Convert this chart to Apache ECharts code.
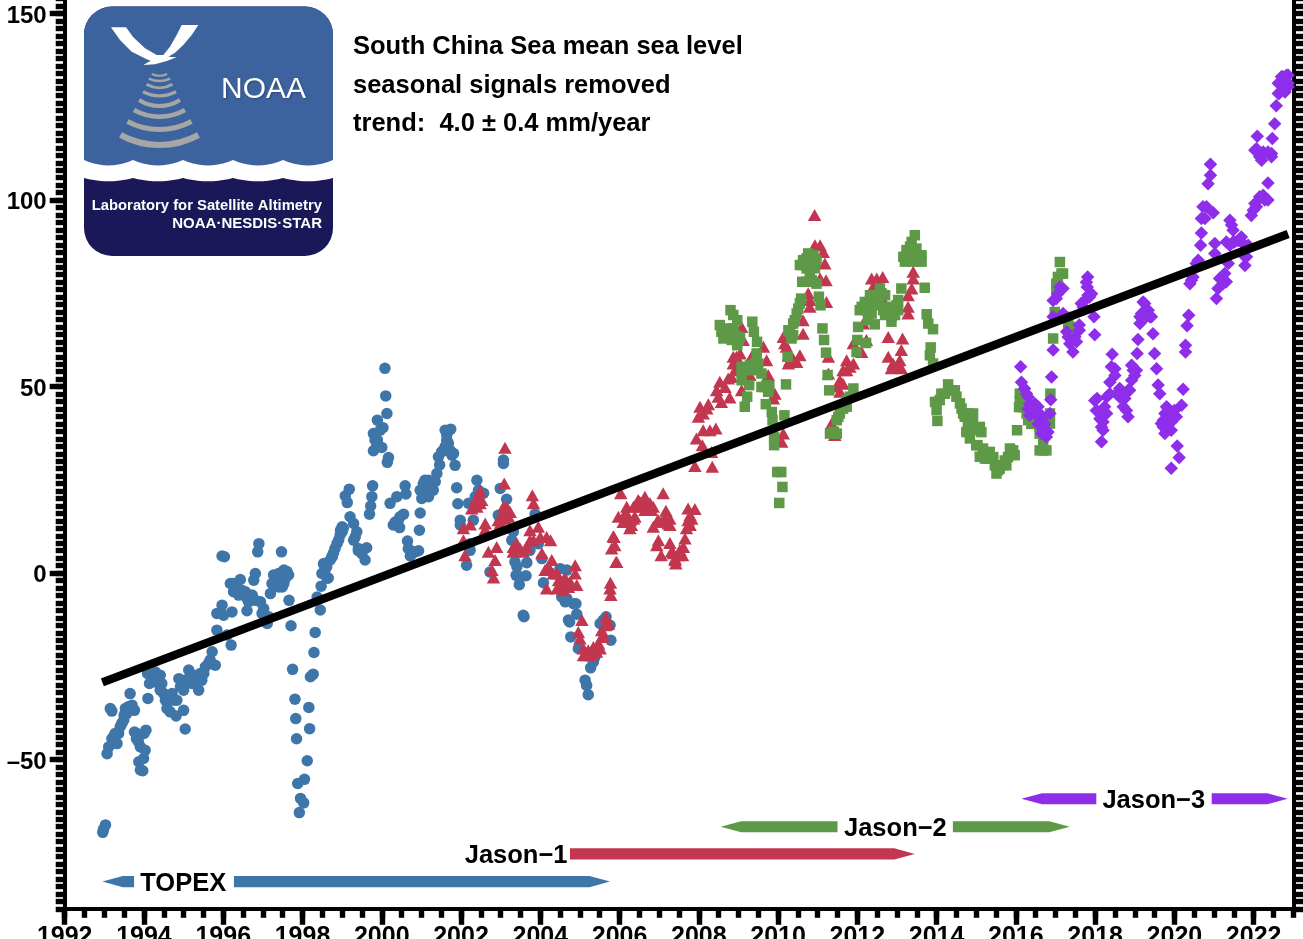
<!DOCTYPE html>
<html><head><meta charset="utf-8"><style>html,body{margin:0;padding:0;background:#fff;overflow:hidden}#c{width:1303px;height:939px}</style>
<script src="https://cdn.jsdelivr.net/npm/echarts@6/dist/echarts.min.js"></script></head>
<body><div id="c"></div>
<script>
const topexData=[[1992.96,-69.5],[1992.98,-68.7],[1993.03,-67.5],[1993.07,-48.4],[1993.11,-46.6],[1993.19,-44.4],[1993.32,-45.7],[1993.36,-43],[1993.4,-41.2],[1993.49,-39.4],[1993.5,-38.1],[1993.53,-36.3],[1993.65,-32.3],[1993.7,-35.4],[1993.76,-36.8],[1993.15,-36.3],[1993.19,-37],[1993.76,-42.6],[1993.81,-44.4],[1994.05,-42.1],[1993.91,-46.6],[1994.03,-47.5],[1993.99,-49.7],[1993.87,-50.6],[1993.91,-52.8],[1993.97,-53],[1994.1,-33.6],[1994.14,-29.6],[1994.09,-26.9],[1994.29,-26.5],[1994.41,-27.4],[1994.45,-29.6],[1994.33,-28.7],[1994.5,-32.3],[1994.58,-33.2],[1994.71,-32.3],[1994.83,-34.1],[1994.58,-36.3],[1994.66,-37.2],[1994.81,-38.3],[1995,-36.8],[1995.04,-41.8],[1994.88,-28.3],[1994.92,-30.5],[1995,-31.4],[1995.13,-26],[1995.25,-27.4],[1995.21,-29.6],[1995.38,-31.4],[1995.46,-28.7],[1995.42,-26.9],[1995.55,-25.1],[1995.63,-24.2],[1995.8,-24.7],[1995.72,-21.1],[1995.84,-15.3],[1996.1,-16.6],[1996.2,-19.3],[1995.84,-10.8],[1995.97,-8.6],[1996.01,-11.3],[1996.22,-10.4],[1996.6,-10.1],[1996.03,4.4],[1995.97,4.6],[1996.9,7.9],[1996.87,5.7],[1997.47,5.7],[1996.25,-2.8],[1996.43,-1.7],[1996.31,-4.1],[1996.39,-5.9],[1996.56,-5],[1996.73,-5.9],[1996.64,-7.7],[1996.94,-7.7],[1996.98,-10.8],[1997.11,-13.5],[1997.15,-11.7],[1996.81,-0.1],[1996.77,-1.9],[1997.19,-5.5],[1997.27,-0.5],[1997.44,-1],[1997.61,0.4],[1997.49,-3.7],[1997.65,-0.5],[1997.23,-2.8],[1997.36,-2.3],[1997.53,-2.8],[1997.66,-7.3],[1997.71,-14.1],[1997.75,-25.8],[1997.81,-33.8],[1997.83,-39],[1997.85,-44.4],[1997.88,-56.4],[1998.05,-55.3],[1998.12,-50.3],[1997.95,-60.4],[1998.03,-61.6],[1997.92,-64.2],[1998.16,-36],[1998.18,-41.7],[1998.2,-27.8],[1998.27,-27.1],[1998.29,-21.3],[1998.32,-15.9],[1998.45,-9.9],[1998.37,-6.4],[1998.47,-3.5],[1998.54,-0.1],[1998.62,-1.4],[1998.54,2.6],[1998.75,4.4],[1998.87,7.9],[1998.96,11.5],[1998.65,-1.3],[1998.49,-0.1],[1998.53,2.4],[1998.7,3.5],[1998.78,5.3],[1998.95,10.2],[1999,12.4],[1999.2,15.1],[1999.29,13.3],[1999.37,11.1],[1999.29,8.8],[1999.41,6],[1999.62,6.8],[1999.58,3.5],[1999.69,15.8],[1999.72,18],[1999.75,20.5],[1999.77,23.4],[1999.18,22.5],[1999.08,20.7],[1999.13,18.9],[2000.21,18.7],[2000.38,20.5],[2000.59,23.4],[2000.61,21.2],[2000.55,15.8],[2000.42,14.2],[2000.29,12.9],[2000.45,12.2],[2000.65,8.6],[2000.67,6.6],[2000.72,4.6],[2000.93,6],[2000.95,11.5],[2000.97,16.1],[2001.01,20],[2000.97,22.2],[2001.18,20.5],[2001.09,24.9],[2001.3,22.2],[2001.39,26.7],[2001.46,29],[2001.51,32.5],[2001.6,33.9],[2001.89,22.9],[2001.92,18.6],[2001.98,14.2],[2001.85,28.9],[2001.81,32.1],[2001.64,35.6],[2001.6,38.3],[2001.74,38.6],[1999.79,32.8],[2000,33.7],[1999.89,35.7],[1999.89,41],[2000.03,39],[2000.13,42.8],[2000.1,47.5],[2000.08,54.9],[2000.17,31],[2000.14,29.7],[2002.14,2.1],[2002.23,6.1],[2002.19,18.7],[2002.4,24.9],[2002.57,21.4],[2002.36,20.5],[2003.07,29.4],[2002.99,22.7],[2003.15,19.8],[2002.94,15.5],[2002.99,13.8],[2003.28,8.8],[2003.36,3],[2003.66,2.8],[2003.39,-0.6],[2003.64,-0.7],[2003.47,-3.1],[2003.57,-11.3],[2003.59,-11.7],[2003.87,15.8],[2003.74,6.1],[2003.95,7.9],[2004.04,3.9],[2004.08,-2.6],[2004.5,1.2],[2004.67,0.8],[2004.54,-6.4],[2004.63,-7.7],[2004.9,-8.2],[2004.92,-11],[2004.74,-13.1],[2004.77,-17.1],[2004.96,-20.2],[2005.27,-25.4],[2005.13,-28.7],[2005.17,-30.1],[2005.21,-32.6],[2005.38,-22.5],[2005.66,-11.7],[2005.76,-14],[2005.78,-18],[2005.51,-13.5],[2002.73,0.3],
[1993.23,-43.9],[1993.27,-43],[1993.44,-40.3],[1993.57,-37.6],[1993.61,-35.8],[1993.82,-43],[1993.86,-45.2],[1994,-43],[1994.2,-27.8],[1994.37,-29.6],[1994.41,-31.4],[1994.54,-34.1],[1994.75,-34.1],[1994.92,-28.7],[1995.04,-28.7],[1995.17,-27.8],[1995.34,-29.6],[1995.51,-26.9],[1995.67,-23.3],[1996.18,-2.8],[1996.26,-5],[1996.47,-4.6],[1996.6,-6.8],[1996.81,-7.3],[1997.02,-9.5],[1997.06,-11.7],[1997.31,-1.9],[1997.4,-0.1],[1997.53,0.8],[1997.57,-1.4],[1997.4,-3.7],[1997.27,-2.8],[1998.57,0.8],[1998.61,1.7],[1998.74,4.4],[1998.82,6.6],[1998.91,8.8],[1999,11.1],[1999.03,12],[1999.41,6.6],[1999.5,5.2],[1999.33,9.7],[1999.83,35.7],[1999.96,38.3],[1999.79,37.4],[1999.87,33.9],[2000.46,15.1],[2000.34,13.7],[2000.76,5.2],[2000.84,5.7],[2001.05,24],[2001.14,23.1],[2001.26,23.1],[2001.09,21.3],[2001.01,22.2],[2001.18,24.9],[2001.35,24.5],[2001.43,31.2],[2001.56,33],[2001.68,34.8],[2001.72,33],[2001.64,37],[2001.77,31.6],[2003.32,11.1],[2003.41,1.7],[2003.49,-1],[2004.67,-6.8],[2004.84,-8.2],[2004.71,-12.6],[2005.34,-23.8],[2005.68,-13.5],[2005.59,-12.6],[2001.98,12.9],[2002.23,7.9],[2002.31,14.2],[2002.44,22.2],[2003.07,30.3]];
const jason1Data=[[2003.11,33.6],[2003.09,24],[2003.8,20.9],[2003.83,18.7],[2002.48,22.1],[2002.48,18.7],[2002.27,17.3],[2002.06,12],[2002.23,13],[2002.61,13.3],[2002.61,11.7],[2002.06,8.8],[2002.1,4.8],[2002.69,5.7],[2002.9,7],[2002.86,3.5],[2002.78,0.8],[2002.82,-1.2],[2003.15,17.8],[2003.07,16],[2003.2,15.1],[2002.99,13.3],[2003.32,7],[2003.49,6.6],[2003.57,5.7],[2003.74,11.5],[2003.74,8.8],[2003.95,12.4],[2004,9.7],[2004.26,8.8],[2004.04,5.3],[2004.29,3.5],[2004.12,0.8],[2004.16,-4.1],[2004.42,-0.1],[2004.58,-3.2],[2004.88,2.1],[2004.88,-0.1],[2004.79,-3.2],[2004.92,-3.2],[2004.42,-4.1],[2005.05,-12.6],[2004.96,-15.8],[2005,-17.5],[2005.17,-22],[2005.34,-19.8],[2005.51,-20.2],[2005.59,-16.6],[2005.66,-11.7],[2005.76,-4.1],[2005.78,-5.9],[2005.91,3],[2005.8,6.6],[2005.86,9.7],[2004.58,-1.9],[2004.75,-2.3],[2005.09,-22],[2005.3,-22],[2005.42,-21.1],[2005.55,-17.1],[2005.72,-13.5],[2005.77,-2.6],[2005.93,3],[2005.84,9.9],[2005.88,7.5],[2006.03,21.4],[2006.18,17.8],[2005.97,15.1],[2006.09,13.7],[2006.22,15.1],[2006.35,14.6],[2006.26,12],[2006.47,19.6],[2006.64,20.5],[2006.51,17.8],[2006.77,18.7],[2006.64,16.9],[2007.1,21.4],[2006.85,17.8],[2007.17,16.7],[2006.94,13.8],[2006.85,12.4],[2007.06,13.8],[2007.23,13.3],[2007.27,12.9],[2006.98,8.8],[2006.94,7.5],[2007.05,4.8],[2007.27,8.1],[2007.31,5.7],[2007.4,3.9],[2007.42,2.6],[2007.61,7],[2007.65,9.3],[2007.59,4.8],[2007.73,17.3],[2007.9,17.2],[2007.73,14.2],[2007.78,12.9],[2007.69,12],[2007.9,28.7],[2008.34,28.5],[2008.32,32.5],[2008.09,34.3],[2007.94,36.1],[2008.11,38.3],[2008.28,38.3],[2008.43,38.8],[2007.99,41.9],[2008.03,44.6],[2008.24,45.3],[2008.11,42.8],[2008.57,45.9],[2008.78,47.1],[2008.45,49],[2008.53,51.3],[2008.74,52.2],[2008.91,54.4],[2008.87,58],[2009.04,58.9],[2009.08,66],[2009.12,62.5],[2009.08,49],[2009.33,58],[2009.29,53.1],[2009.63,60.7],[2009.71,57.1],[2009.75,53.1],[2009.88,46.8],[2009.92,48.1],[2010.13,37.4],[2010.09,35.2],[2010.13,63.3],[2010.21,60.7],[2010.26,58.4],[2010.55,58.4],[2010.47,56.6],[2010.26,56.2],[2010.63,64.2],[2010.63,67.8],[2010.76,75],[2010.8,71.4],[2011.06,79],[2011.21,78.5],[2011.18,83],[2010.93,87.9],[2011.06,87.9],[2011.14,86.1],[2010.92,96],[2011.22,72.7],[2011.27,53.5],[2011.27,58],[2011.35,40.1],[2011.43,37],[2011.56,51.7],[2011.64,54.4],[2011.73,57.1],[2011.9,56.2],[2011.9,61.6],[2012.23,62.5],[2011.56,48.6],[2012.11,59.3],[2012.15,66.9],[2012.36,79],[2012.49,79],[2012.64,79.4],[2012.78,63.3],[2013.14,62.9],[2012.78,58],[2013.11,59.8],[2013.07,57.1],[2012.86,54.9],[2013.11,54.9],[2013.41,80.8],[2013.41,79],[2013.37,76.3],[2013.28,74.5],[2013.28,71.4],[2013.28,69.6],[2012.7,72.3],
[2002.36,19.6],[2002.44,20.9],[2002.52,19.6],[2002.4,17.8],[2003.07,17.8],[2003.24,16.4],[2003.11,14.6],[2002.94,14.2],[2003.41,7.9],[2003.32,5.7],[2003.66,7],[2003.83,8.8],[2004.16,9.7],[2004.2,1.7],[2004.33,-0.1],[2004.46,-1.9],[2004.63,-1.4],[2004.71,-3.7],[2004.58,-4.6],[2004.25,0.8],[2005.21,-20.7],[2005.09,-20.2],[2005.3,-21.1],[2005.47,-18.9],[2005.64,-14],[2005.55,-15.3],[2006.14,16],[2006.27,14.2],[2006.39,15.1],[2006.35,17.8],[2006.6,19.1],[2006.68,18.7],[2006.73,17.3],[2006.51,19.1],[2006.81,16.9],[2006.14,14.2],[2006.3,12.9],[2006.98,14.2],[2007.15,14.6],[2007.27,14.6],[2007.4,3.5],[2007.48,4.8],[2007.52,6.2],[2007.36,5.3],[2007.82,14.6],[2007.78,15.5],[2008.2,44.1],[2008.49,47.3],[2008.66,49.9],[2008.83,52.6],[2008.95,58],[2008.87,56.2],[2008.99,55.7],[2010.3,57.1],[2010.38,57.5],[2010.17,61.6],[2011.64,50.8],[2011.73,54.4],[2011.81,55.3],[2011.48,50],[2012.99,55.3],[2012.9,56.2],[2012.4,76.8],[2010.8,73.2]];
const jason2Data=[[2008.8,70.5],[2008.87,69.2],[2008.97,67.8],[2008.53,66.5],[2008.74,65.6],[2008.62,62.9],[2008.91,63.8],[2009.04,63.3],[2008.97,61.1],[2009.35,67.4],[2009.39,64.7],[2009.47,62],[2009.46,58.9],[2009.5,56.2],[2009.58,53.5],[2009.08,54],[2009.29,55.7],[2009.08,51.7],[2009.27,50.4],[2009.22,47.3],[2009.16,44.6],[2009.65,49.9],[2009.78,50.2],[2010.2,50.6],[2009.69,45.3],[2009.84,43.2],[2009.86,41],[2010.16,42.3],[2009.9,36.5],[2009.9,34.3],[2009.98,27.1],[2010.08,27.1],[2010.11,23.1],[2010.03,18.8],[2010.24,58],[2010.3,64.7],[2010.38,63.8],[2010.42,67.8],[2010.51,70.9],[2010.58,73.6],[2010.61,78.1],[2010.85,78.5],[2010.97,77.6],[2010.72,84.4],[2010.63,82.6],[2010.89,85.2],[2010.93,81.7],[2011.03,74.1],[2011.07,71.8],[2011.12,65.6],[2011.16,62.5],[2011.21,59.1],[2011.25,53.1],[2011.29,49],[2011.9,49.5],[2011.81,47.3],[2011.73,44.6],[2011.52,41.9],[2011.41,37.9],[2011.98,59.3],[2012,62.5],[2012.22,61.7],[2012.02,66],[2012.06,70.5],[2012.44,66.7],[2012.27,67.8],[2012.32,73.2],[2012.49,71.8],[2012.57,76.3],[2012.7,74.5],[2012.78,69.6],[2012.86,68.7],[2013.03,70.5],[2013.03,73.2],[2013.11,76.3],[2013.2,83.5],[2013.24,86.6],[2013.45,90.6],[2013.49,87],[2013.62,83.5],[2013.49,84.4],[2013.7,76.5],[2013.75,69.4],[2013.79,66.9],[2013.91,65.4],[2013.85,60.5],[2013.83,58.4],[2013.91,56.2],[2014.29,50.6],[2014.12,48.1],[2014.46,49],[2013.96,45.9],[2014,43.7],[2014.02,40.8],[2014.5,47.3],[2014.63,44.1],[2014.8,42.8],[2014.8,39.2],[2014.92,42.8],[2014.97,38.3],[2015.03,34.3],[2015.09,31.2],[2014.75,37.8],[2014.92,40.1],[2015.13,37.8],[2015,34.3],[2015.34,32.5],[2015.22,30.7],[2015.51,26.7],[2015.64,28.9],[2015.8,31.1],[2015.93,32.9],[2016.03,38.3],[2016.1,46.3],[2016.31,41],[2016.6,37.4],[2016.69,32.9],[2016.87,48.1],[2016.86,40.1],[2016.94,62.9],[2016.98,70],[2017.32,66.9],[2017.02,77.6],[2017.15,80.3],[2017.11,83.4],[2015.59,28],[2015.47,28.9],[2014.84,36.1],[2016.69,35.6],[2016.18,44.5],
[2008.7,64.2],[2008.57,64.7],[2008.83,62.5],[2009,62.5],[2008.87,65.6],[2009.08,55.3],[2009.25,54.4],[2009.42,56.2],[2009.46,54.4],[2009.71,50.4],[2009.75,48.6],[2009.58,49.9],[2010.76,85.7],[2010.63,83.9],[2010.8,83],[2010.55,82.6],[2010.72,81.7],[2010.89,83],[2010.97,83.9],[2010.8,80.8],[2010.47,69.6],[2010.55,72.3],[2010.38,66.9],[2010.26,65.1],[2010.34,62.9],[2010.72,78.1],[2012.11,71.4],[2012.19,72.7],[2012.4,72.3],[2012.23,70.5],[2012.36,69.6],[2012.53,73.6],[2012.61,75],[2012.65,70.5],[2012.74,71.4],[2012.9,70.9],[2012.95,69.2],[2012.99,71.8],[2012.7,69.2],[2012.86,67.4],[2012.32,74.5],[2013.33,87.5],[2013.16,84.8],[2013.24,83.9],[2013.54,85.2],[2013.41,83.5],[2013.62,85.2],[2013.37,88.8],[2011.73,46.4],[2011.64,44.1],[2011.56,42.8],[2011.48,41],[2011.31,37.4],[2011.48,37.4],[2014.21,48.1],[2014.38,49],[2014.08,46.4],[2014.59,45.5],[2014.71,41.9],[2014.88,40.1],[2014.79,40.1],[2014.67,42.8],[2014.84,41.4],[2015.09,39.2],[2015.17,33.4],[2015.3,30.7],[2015.43,31.1],[2015.55,27.6],[2015.72,30.2],[2015.85,33.4],[2015.76,28.9],[2015.97,31.6],[2016.27,42.8],[2016.39,40],[2016.6,39.2],[2016.77,40.1],[2016.86,42.8],[2016.6,32.9],[2016.77,32.9],[2016.1,48.1],[2016.08,44.5],[2017.06,79.4],[2017.19,80.3],[2017.02,75.8],[2017.36,66],[2017.26,68.7]];
const jason3Data=[[2016.12,55.3],[2016.14,51.2],[2016.22,49.5],[2016.31,47.2],[2016.39,45],[2016.56,44.6],[2016.35,42.3],[2016.65,41.4],[2016.86,42.8],[2016.67,38.7],[2016.77,36.5],[2016.9,52.6],[2016.88,46.5],[2016.94,59.8],[2017.02,73.6],[2017.11,76.7],[2016.94,68.7],[2017.19,69.6],[2017.32,63.3],[2017.44,59.3],[2017.49,63.3],[2017.6,66.5],[2017.65,72.3],[2017.82,74.5],[2017.91,74.9],[2017.81,79.4],[2017.8,76.7],[2017.97,68.7],[2017.99,63.9],[2018.05,46.8],[2017.99,46.3],[2018.08,43.2],[2018.29,42.8],[2018.2,40.5],[2018.2,38.3],[2018.16,35.2],[2018.29,47.2],[2018.54,48.1],[2018.71,48.1],[2018.87,49],[2018.71,44.6],[2018.83,41.9],[2018.37,51.2],[2018.5,54.8],[2018.43,58.7],[2018.92,55.7],[2019,53],[2018.96,54.4],[2019.06,58.9],[2019.08,62.6],[2019.13,66.9],[2019.21,72.7],[2019.25,70],[2019.42,68.7],[2019.46,64.2],[2019.5,58.9],[2019.55,54.8],[2019.59,50.4],[2019.63,48.1],[2019.8,44.6],[2019.97,42.3],[2020.05,41.9],[2019.67,40.1],[2019.76,37.4],[2019.92,38.3],[2020.18,45],[2020.22,49.3],[2020.07,34.1],[2020.12,31],[2019.92,28.1],[2020.28,61.1],[2020.28,59.3],[2020.32,66.3],[2020.36,69.1],[2020.39,77.6],[2020.47,79.4],[2020.6,83.9],[2020.66,87.9],[2020.68,91.2],[2020.77,95.1],[2020.72,98.2],[2020.98,96.6],[2020.85,104.4],[2020.91,106.7],[2020.91,109.6],[2021.02,88.4],[2021.02,85.7],[2021.19,79.4],[2021.31,78.1],[2021.1,76.3],[2021.06,73.6],[2021.36,83],[2021.4,87.9],[2021.61,89.2],[2021.4,94.6],[2021.48,91.9],[2021.78,82.5],[2021.82,84.8],[2021.86,87.9],[2021.94,95.9],[2022.03,99.1],[2022.24,101.3],[2022.36,100],[2022.36,104.6],[2022.15,111.6],[2022.45,112.5],[2022.09,117.1],[2022.47,116.5],[2022.53,120.5],[2022.57,125.3],[2022.64,128.6],[2022.74,133.1],[2022.87,130.4],[2022.79,132.2],[2022.7,130.8],[2022.87,133.5],[2021.48,88.8],[2022.24,112.9],[2022.07,113.8],[2016.48,42.8],[2019.84,40.5],
[2016.27,48.1],[2016.35,45.4],[2016.48,45.4],[2016.31,44],[2016.48,42.8],[2016.6,42.8],[2016.44,43.7],[2016.56,40],[2016.73,40],[2016.81,37.8],[2016.65,37.4],[2017.06,74.9],[2016.94,73.1],[2017.19,76.3],[2017.36,61.5],[2017.28,64.7],[2017.53,62],[2017.6,65.1],[2017.74,73.1],[2017.86,74],[2017.7,71.3],[2017.78,78],[2018.12,41.4],[2018.16,39.2],[2018.03,43.6],[2018.24,44.6],[2018.37,48.1],[2018.62,49.5],[2018.62,47.2],[2018.75,46.8],[2018.79,43.6],[2018.41,55.3],[2018.5,53],[2019.04,54.4],[2018.92,51.7],[2018.83,49],[2019.25,72.3],[2019.17,69.6],[2019.34,70.5],[2019.29,68.7],[2019.13,68.7],[2019.38,68.7],[2019.76,42.8],[2019.84,44.1],[2019.72,41],[2019.88,42.8],[2019.84,39.7],[2019.92,40.5],[2020,43.6],[2019.8,38.3],[2019.72,39.2],[2020.43,78.5],[2020.55,83],[2020.68,95.1],[2020.81,98.2],[2021.23,77.6],[2021.14,79],[2021.27,80.3],[2021.31,88.8],[2021.52,88.8],[2021.69,90.1],[2021.73,88.4],[2021.78,84.8],[2021.44,93.3],[2022.07,98.2],[2022.15,100.9],[2022.28,100],[2021.99,97.3],[2022.2,110.7],[2022.36,112.9],[2022.45,111.6],[2022.03,113.4],[2022.62,128.6],[2022.7,133.1],[2022.83,133.5],[2022.87,131.3],[2022.79,129],[2022.62,131.3]];
const trendLine=[[1992.95,-29.3],[2022.87,90.9]];
const topexSpans=[[1992.95,1993.75,-82.7,'left'],[1996.27,2005.76,-82.7,'right']];
const jason1Spans=[[2004.75,2013.45,-75.3,'right']];
const jason2Spans=[[2008.55,2011.5,-68,'left'],[2014.41,2017.36,-68,'right']];
const jason3Spans=[[2016.14,2018.03,-60.5,'left'],[2020.94,2022.86,-60.5,'right']];
const missionLabels=[['TOPEX',1994.99,-82.7],['Jason\u22121',2003.39,-75.3],['Jason\u22122',2012.96,-68],['Jason\u22123',2019.48,-60.5]];
const xMajorTicks=[1992,1994,1996,1998,2000,2002,2004,2006,2008,2010,2012,2014,2016,2018,2020,2022];
const yMajorTicks=[-50,0,50,100,150];
const titleLines=['South China Sea mean sea level','seasonal signals removed','trend:  4.0 \u00b1 0.4 mm/year'];

const xMinorTicks=[];for(let i=0;i<=62;i++)xMinorTicks.push(1992+i*0.5);
const yMinorTicks=[];for(let v=-90;v<=154;v+=2)yMinorTicks.push(v);
const COL={t:'#3f76a9',j1:'#c2374f',j2:'#5e9947',j3:'#8e2eea'};
const FONT='"Liberation Sans",Arial,sans-serif';

function spanSeries(name,data,color){
  return {type:'custom',name,silent:true,clip:false,z:4,data,
    encode:{x:[0,1],y:2},
    renderItem(p,api){
      const a=api.coord([api.value(0),api.value(2)]),b=api.coord([api.value(1),api.value(2)]);
      const side=data[p.dataIndex][3],h=5.6,head=20.5,y=a[1];
      const pts=side==='left'
        ?[[a[0],y],[a[0]+head,y-h],[b[0],y-h],[b[0],y+h],[a[0]+head,y+h]]
        :[[a[0],y-h],[b[0]-head,y-h],[b[0],y],[b[0]-head,y+h],[a[0],y+h]];
      return {type:'polygon',shape:{points:pts},style:{fill:color}};
    }};
}
function ax(extra){return Object.assign({type:'value',min:-90,max:154,gridIndex:0,splitLine:{show:false},axisLabel:{show:false},axisTick:{show:false},axisLine:{show:false}},extra);}
const tickStyle={color:'#000',width:5.4};
const solid=c=>({color:c,opacity:1});

const series=[
 {type:'scatter',name:'TOPEX',data:topexData,symbol:'circle',symbolSize:11.5,itemStyle:solid(COL.t),z:2,silent:true},
 {type:'scatter',name:'Jason-1',data:jason1Data,symbol:'triangle',symbolSize:[13.5,12],itemStyle:solid(COL.j1),z:2,silent:true},
 {type:'scatter',name:'Jason-2',data:jason2Data,symbol:'rect',symbolSize:10.5,itemStyle:solid(COL.j2),z:2,silent:true},
 {type:'scatter',name:'Jason-3',data:jason3Data,symbol:'diamond',symbolSize:13.5,itemStyle:solid(COL.j3),z:2,silent:true},
 {type:'line',name:'trend',data:trendLine,symbol:'none',lineStyle:{color:'#000',width:8.5,cap:'butt'},z:3,silent:true},
 spanSeries('TOPEX span',topexSpans,COL.t),spanSeries('Jason-1 span',jason1Spans,COL.j1),
 spanSeries('Jason-2 span',jason2Spans,COL.j2),spanSeries('Jason-3 span',jason3Spans,COL.j3),
 {type:'custom',name:'mission labels',silent:true,clip:false,z:5,data:missionLabels,encode:{x:1,y:2},
  renderItem(p,api){const c=api.coord([api.value(1),api.value(2)]);
   return {type:'text',x:c[0],y:c[1]+2,style:{text:missionLabels[p.dataIndex][0],fill:'#000',font:'bold 25.5px '+FONT,align:'center',verticalAlign:'middle'}};}}
];

// logo drawing helpers (decorative, not data)
function waveEdge(y0,amp){const pts=[];const cusps=[84,133,183,233,283,333];
  for(let i=0;i<cusps.length-1;i++){const a=cusps[i],b=cusps[i+1];
    for(let k=0;k<=10;k++){const t=k/10;pts.push([a+(b-a)*t,y0+amp*4*t*(1-t)]);}}
  return pts;}
const logoBlue=waveEdge(160,5.5).reverse();
const logoWhiteBottom=waveEdge(178,3.3);
const bird=[[111,27.3],[126,27.3],[133.3,37.3],[145,48.3],[156.7,55],[163.3,55],[170,46.7],[176.7,35],[181.7,25],[198.3,25],[191.7,35],[183.3,45],[175,52.7],[168.3,56.7],[176.7,57.3],[166.7,61],[155,64.3],[143.3,65],[150.7,60.7],[146.7,59.3],[131.7,51.7],[120,40]];
const arcsDef=[[145,39,10,6],[129.5,32,8,5],[116.7,25.5,6.7,4.5],[106,20.5,6,4],[95.7,16.5,4,3.5],[87.7,13,3.4,3],[81,10.7,2.3,2.5],[75.7,7.7,1.7,2]];
const arcEls=arcsDef.map(([low,h,s,w])=>{const r=(h*h+s*s)/(2*s),cy=low-r,half=Math.asin(h/r);
  return {type:'arc',shape:{cx:159.5,cy,r,startAngle:Math.PI/2-half,endAngle:Math.PI/2+half},style:{stroke:'#a6a6a6',fill:'none',lineWidth:w}};});
const logo=[
 {type:'rect',shape:{x:84,y:6.5,width:249,height:249.5,r:28},style:{fill:'#1a1858'}},
 {type:'rect',shape:{x:84,y:6.5,width:249,height:100,r:[28,28,0,0]},style:{fill:'#3d639f'}},
 {type:'polygon',shape:{points:[[84,100],[333,100],[333,170],[84,170]]},style:{fill:'#3d639f'}},
 {type:'polygon',shape:{points:[...logoBlue,...logoWhiteBottom]},style:{fill:'#fff'}},
 {type:'polygon',shape:{points:bird},style:{fill:'#fff'}},
 ...arcEls,
 {type:'text',x:263.5,y:89.5,style:{text:'NOAA',fill:'#fff',font:'30px '+FONT,align:'center',verticalAlign:'middle',textShadowColor:'rgba(0,0,0,0.3)',textShadowBlur:2,textShadowOffsetX:1,textShadowOffsetY:1}},
 {type:'text',x:322,y:206,style:{text:'Laboratory for Satellite Altimetry',fill:'#fff',font:'bold 14.8px '+FONT,align:'right',verticalAlign:'middle'}},
 {type:'text',x:322,y:223.5,style:{text:'NOAA\u00b7NESDIS\u00b7STAR',fill:'#fff',font:'bold 15px '+FONT,align:'right',verticalAlign:'middle'}}
];
const titles=titleLines.map((t,i)=>({type:'text',x:353,y:[47,86,124][i],style:{text:t,fill:'#000',font:'bold 25.5px '+FONT,verticalAlign:'middle'}}));

const chart=echarts.init(document.getElementById('c'),null,{renderer:'canvas'});
chart.setOption({
 animation:false,backgroundColor:'#fff',
 grid:{left:64.7,top:-1.3,width:1228.6,height:910.1,containLabel:false,outerBoundsMode:'none'},
 xAxis:[
  {type:'value',min:1992,max:2023,position:'bottom',splitLine:{show:false},
   axisLine:{show:true,onZero:false,lineStyle:{color:'#000',width:4}},
   axisTick:{show:true,customValues:xMajorTicks,length:16,lineStyle:tickStyle},
   axisLabel:{show:true,customValues:xMajorTicks,margin:16,color:'#000',fontFamily:FONT,fontWeight:'bold',fontSize:25,formatter:v=>String(v),hideOverlap:false}},
  {type:'value',min:1992,max:2023,position:'bottom',splitLine:{show:false},axisLine:{show:false,onZero:false},
   axisTick:{show:true,customValues:xMinorTicks,length:9,lineStyle:tickStyle},axisLabel:{show:false}}
 ],
 yAxis:[
  ax({position:'left',axisLine:{show:true,onZero:false,lineStyle:{color:'#000',width:4}},
     axisTick:{show:true,customValues:yMajorTicks,length:15,lineStyle:tickStyle},
     axisLabel:{show:true,customValues:yMajorTicks,margin:18,verticalAlign:'top',lineHeight:5,color:'#000',fontFamily:FONT,fontWeight:'bold',fontSize:24,formatter:v=>v<0?'\u2013'+Math.abs(v):String(v),hideOverlap:false}}),
  ax({position:'left',axisTick:{show:true,customValues:yMinorTicks,length:9,lineStyle:tickStyle}}),
  ax({position:'right',axisLine:{show:true,onZero:false,lineStyle:{color:'#000',width:4}},axisTick:{show:true,customValues:yMinorTicks,length:11,lineStyle:tickStyle}})
 ],
 series,
 graphic:{elements:[...logo,...titles].map(e=>Object.assign({silent:true,z:10},e))}
});
</script></body></html>
